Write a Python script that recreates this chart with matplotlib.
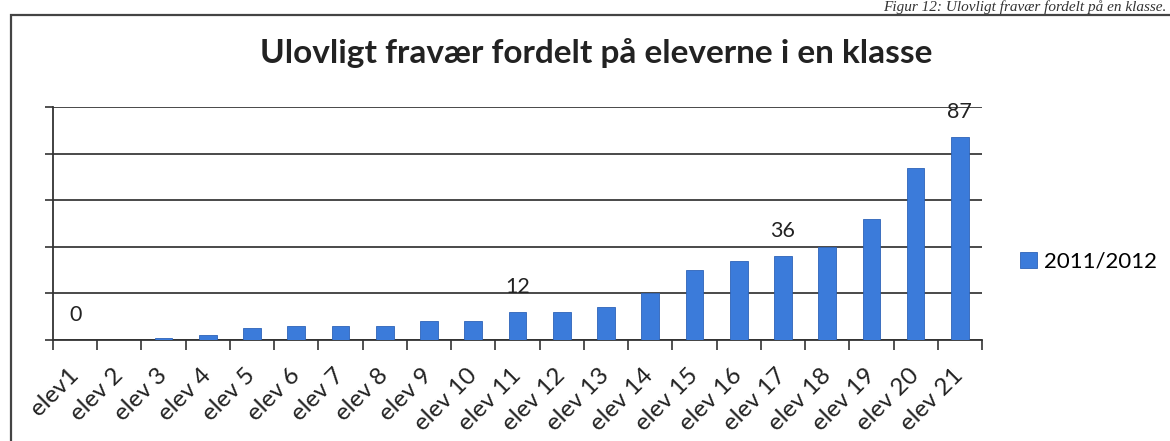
import matplotlib.pyplot as plt
from matplotlib.patches import Rectangle
from matplotlib.ticker import FixedLocator
import numpy as np

# data
elever = ["elev1"] + ["elev %d" % i for i in range(2, 22)]
fravaer = [0, 0, 1, 2, 5, 6, 6, 6, 8, 8, 12, 12, 14, 20, 30, 34, 36, 40, 52, 74, 87]
vis_label = [0, 10, 16, 20]   # kun disse har datalabel
serie = "2011/2012"
titel = "Ulovligt fravær fordelt på eleverne i en klasse"
figurtekst = "Figur 12: Ulovligt fravær fordelt på en klasse."

W, H = 1170, 441
fig = plt.figure(figsize=(W / 100, H / 100), dpi=100)
plt.rcParams['font.family'] = ['Lato', 'DejaVu Sans']

ax = fig.add_axes([53 / W, (H - 340) / H, (982 - 53) / W, (340 - 107) / H])

x = np.arange(len(elever))
bars = ax.bar(x, fravaer, width=0.4, color="#3b7bda", edgecolor="#2d63b8",
              linewidth=0.6, label=serie, zorder=3)

for i in vis_label:
    ax.annotate(str(fravaer[i]), (x[i], fravaer[i]), xytext=(0, 18),
                textcoords="offset points", ha="center", va="center",
                fontsize=15.5, color="#222222", zorder=4)

ax.set_xlim(-0.5, len(elever) - 0.5)
ax.set_ylim(0, 100)

# y-akse: gitterlinjer hver 20, ingen tal
ax.set_yticks(np.arange(0, 101, 20))
ax.set_yticklabels([])
ax.tick_params(axis="y", length=6, width=1.2, color="#333333", direction="out")
ax.grid(axis="y", color="#3a3a3a", linewidth=1.3, zorder=1)

# x-akse: streger mellem kategorierne, labels i midten
ax.set_xticks(x)
ax.set_xticklabels(elever, rotation=45, ha="right", rotation_mode="anchor",
                   va="center", fontsize=17.5, color="#222222")
ax.xaxis.set_minor_locator(FixedLocator(np.arange(-0.5, len(elever), 1)))
ax.tick_params(axis="x", which="major", length=0, pad=23)
ax.tick_params(axis="x", which="minor", length=7, width=1.2, color="#333333",
               direction="out")

for s in ["top", "right"]:
    ax.spines[s].set_visible(False)
for s in ["left", "bottom"]:
    ax.spines[s].set_color("#333333")
    ax.spines[s].set_linewidth(1.3)

fig.text(596 / W, (H - 63) / H, titel, ha="center", va="baseline",
         fontsize=24, fontweight="bold", color="#222222")

ax.legend(loc="center left", bbox_to_anchor=(1020 / W, (H - 262) / H),
          bbox_transform=fig.transFigure, frameon=False, fontsize=16,
          handlelength=0.75, handleheight=0.75, handletextpad=0.35,
          borderpad=0, borderaxespad=0)

# ramme rundt om diagrammet (skannet side)
fig.patches.append(Rectangle((11 / W, -0.05), 1.1, (H - 15) / H + 0.05,
                             transform=fig.transFigure, fill=False,
                             edgecolor="#444444", linewidth=1.6))
fig.text(1166 / W, (H - 11) / H, figurtekst, ha="right", va="baseline",
         fontsize=11, style="italic", family="Liberation Serif", color="#333333")

fig.savefig("out.png", dpi=100, facecolor="white")
